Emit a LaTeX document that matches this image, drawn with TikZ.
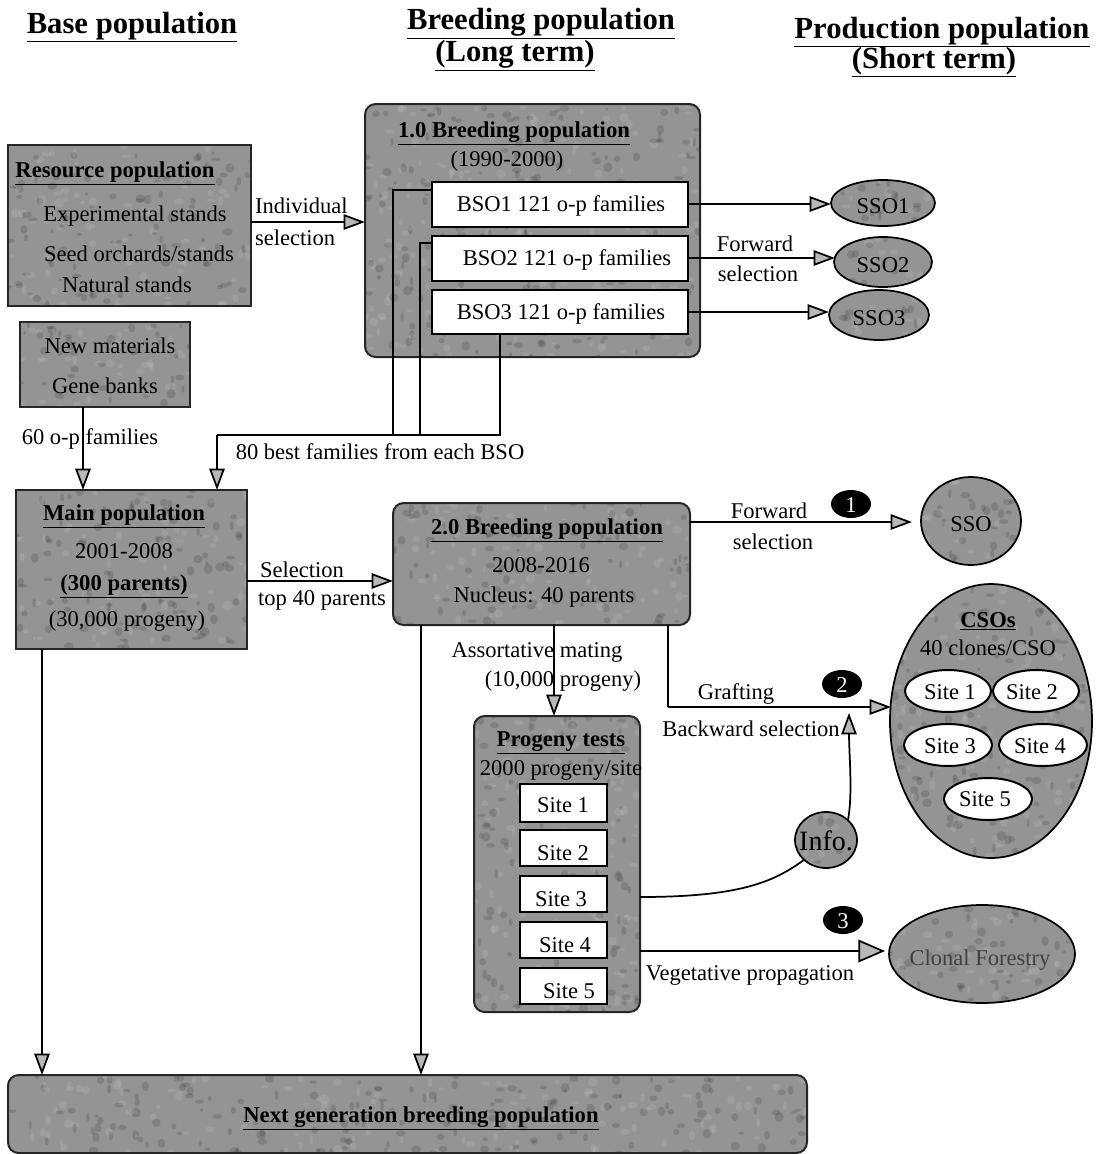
\documentclass[tikz,border=0pt]{standalone}
\usepackage{fontspec}
\setmainfont{Liberation Serif}
\usetikzlibrary{arrows.meta,shapes.geometric}
\definecolor{mott}{gray}{0.58}
\definecolor{tipg}{gray}{0.72}
\newcommand\bx[6]{\pgfmathsetmacro\curW{#5-#3}\pgfmathsetmacro\curH{#6-#4}\node[#1,minimum width={(#5-#3)*0.75pt},minimum height={(#6-#4)*0.75pt}] (#2) at ({(#3+#5)/2},{(#4+#6)/2}) {};}
\newcommand\el[6]{\pgfmathsetmacro\curW{2*#5}\pgfmathsetmacro\curH{2*#6}\node[#1,minimum width={2*#5*0.75pt},minimum height={2*#6*0.75pt}] (#2) at (#3,#4) {};}
\newcommand\blots{%
  \pgfmathtruncatemacro\blotN{(\curW/20)*(\curH/10)+1}%
  \foreach \i in {1,...,\blotN}{%
    \pgfmathsetmacro\bxa{rnd*\curW}\pgfmathsetmacro\bya{rnd*\curH}%
    \pgfmathsetmacro\bra{1.5+rnd*3.5}\pgfmathsetmacro\brb{1.5+rnd*3.5}%
    \pgfmathsetmacro\bop{rnd<0.55?1:0}%
    \ifdim\bop pt>0.5pt
      \fill[black,opacity=0.13] (path picture bounding box.north west) ++(\bxa,\bya) ellipse [x radius=\bra,y radius=\brb];
    \else
      \fill[white,opacity=0.1] (path picture bounding box.north west) ++(\bxa,\bya) ellipse [x radius=\bra,y radius=\brb];
    \fi
  }}
\tikzset{
  x=0.75pt,y=-0.75pt,
  every node/.style={inner sep=0pt,outer sep=0pt},
  txt/.style={font=\fontsize{16.9pt}{18pt}\selectfont,text=black,yshift=-0.5pt},
  btxt/.style={font=\fontsize{17pt}{18pt}\selectfont\bfseries,text=black,yshift=-3pt},
  head/.style={font=\fontsize{23pt}{25pt}\selectfont\bfseries,text=black,yshift=-3pt},
  gbox/.style={rectangle,draw=black!85,line width=1.5pt,fill=mott,path picture={\blots}},
  rbox/.style={rectangle,rounded corners=8pt,draw=black!85,line width=1.5pt,fill=mott,path picture={\blots}},
  wbox/.style={rectangle,draw=black,line width=1.5pt,fill=white},
  gell/.style={ellipse,draw=black,line width=1.3pt,fill=mott,path picture={\blots}},
  wrell/.style={ellipse,draw=black,line width=1.5pt,fill=white},
  bell/.style={ellipse,fill=black},
  conn/.style={draw=black,line width=1.3pt},
  arr/.style={conn,-{Triangle[length=16pt,width=11.5pt,fill=tipg]}},
  barr/.style={conn,-{Triangle[length=20pt,width=17pt,fill=tipg]}},
}
\begin{document}
\begin{tikzpicture}
\pgfmathsetseed{4242}
\useasboundingbox (0,0) rectangle (1098,1154);
% headers
\node[head] (h1) at (132,23) {\underline{Base population}};
\node[head] (h2) at (541,20) {\underline{Breeding population}};
\node[head] (h2b) at (515,52) {\underline{(Long term)}};
\node[head] (h3) at (942,28) {\underline{Production population}};
\node[head] (h3b) at (934,58) {\underline{(Short term)}};
% boxes
\bx{gbox}{res}{8}{145}{251}{306}
\bx{gbox}{newm}{20}{322}{190}{407}
\bx{rbox}{bp1}{365}{104}{700}{357}
\bx{wbox}{b1}{432}{182}{688}{227}
\bx{wbox}{b2}{432}{236}{688}{281}
\bx{wbox}{b3}{432}{290}{688}{334}
\el{gell}{s1}{883}{203}{52}{23}
\el{gell}{s2}{883}{262}{49}{25}
\el{gell}{s3}{879}{315}{50}{25}
\bx{gbox}{main}{16}{490}{247}{649}
\bx{rbox}{bp2}{393}{503}{690}{625}
\el{gell}{sso}{971}{521}{50}{44}
\el{gell}{cso}{991}{721}{101}{137}
\el{wrell}{c1}{948}{691}{43}{21}
\el{wrell}{c2}{1036}{691}{43}{21}
\el{wrell}{c3}{948}{745}{44}{21}
\el{wrell}{c4}{1043}{745}{44}{21}
\el{wrell}{c5}{988}{799}{44}{21}
\bx{rbox}{prog}{474}{716}{640}{1012}
\bx{wbox}{p1}{520}{784}{607}{822}
\bx{wbox}{p2}{520}{830}{607}{866}
\bx{wbox}{p3}{520}{876}{607}{912}
\bx{wbox}{p4}{520}{922}{607}{958}
\bx{wbox}{p5}{520}{968}{607}{1004}
\el{gell}{info}{826}{840}{31}{28}
\el{gell}{clon}{982}{954}{93}{49}
\bx{rbox}{next}{8}{1075}{807}{1153}
\el{bell}{n1}{851}{504}{20}{14}
\el{bell}{n2}{842}{684}{20}{14}
\el{bell}{n3}{843}{920}{20}{14}
% helper points
\coordinate (j1) at (393,190);
\coordinate (j2) at (420,243);
\coordinate (j3) at (500,435);
\coordinate (bus) at (217,435);
\coordinate (y1) at (0,222);
\coordinate (y2) at (0,204);
\coordinate (y3) at (0,258);
\coordinate (y4) at (0,312);
\coordinate (x1) at (83,0);
\coordinate (x2) at (42,0);
\coordinate (x3) at (421,0);
\coordinate (y5) at (0,581);
\coordinate (y6) at (0,522);
\coordinate (x4) at (554,0);
\coordinate (g1) at (668,707);
\coordinate (y7) at (0,897);
\coordinate (up) at (849,713);
\coordinate (y8) at (0,951);
\coordinate (e1) at (831,204);
\coordinate (e2) at (835,258);
\coordinate (e3) at (829,312);
\coordinate (e4) at (912,522);
\coordinate (e5) at (891,707);
\coordinate (e6) at (885,951);
% connectors
\draw[arr] (res.east |- y1) -- (bp1.west |- y1);
\draw[arr] (b1.east |- y2) -- (e1);
\draw[arr] (b2.east |- y3) -- (e2);
\draw[arr] (b3.east |- y4) -- (e3);
\draw[conn] (b1.west |- j1) -- (j1) -- (j1 |- bus);
\draw[conn] (b2.west |- j2) -- (j2) -- (j2 |- bus);
\draw[conn] (j3 |- b3.south) -- (j3) -- (bus);
\draw[arr] (bus) -- (bus |- main.north);
\draw[arr] (x1 |- newm.south) -- (x1 |- main.north);
\draw[arr] (x2 |- main.south) -- (x2 |- next.north);
\draw[arr] (x3 |- bp2.south) -- (x3 |- next.north);
\draw[arr] (main.east |- y5) -- (bp2.west |- y5);
\draw[arr] (bp2.east |- y6) -- (e4);
\draw[arr] (x4 |- bp2.south) -- (x4 |- prog.north);
\draw[conn] (g1 |- bp2.south) -- (g1);
\draw[arr] (g1) -- (e5);
\draw[conn] (prog.east |- y7) .. controls +(100,0) and +(-30,22) .. (info.south west);
\draw[arr] (info.north east) .. controls +(5,-25) and +(0,40) .. (up);
\draw[barr] (prog.east |- y8) -- (e6);
% labels
\node[btxt] (t1) at (115,169) {\underline{Resource population}};
\node[txt] (t2) at (135,215) {Experimental stands};
\node[txt] (t3) at (139,253) {Seed orchards/stands};
\node[txt] (t4) at (127,284) {Natural stands};
\node[txt] (t5) at (110,345) {New materials};
\node[txt] (t6) at (105,385) {Gene banks};
\node[txt] (t7) at (90,438) {60 o-p families};
\node[txt,anchor=west] (t8) at (255,205) {Individual};
\node[txt,anchor=west] (t9) at (255,237) {selection};
\node[btxt] (t10) at (514,129) {\underline{1.0 Breeding population}};
\node[txt] (t11) at (507,160) {(1990-2000)};
\node[txt] (tb1) at (561,205) {BSO1 121 o-p families};
\node[txt] (tb2) at (567,259) {BSO2 121 o-p families};
\node[txt] (tb3) at (561,313) {BSO3 121 o-p families};
\node[txt] (t12) at (755,243) {Forward};
\node[txt] (t13) at (758,273) {selection};
\node[txt] (ts1) at (883,205) {SSO1};
\node[txt] (ts2) at (883,264) {SSO2};
\node[txt] (ts3) at (879,317) {SSO3};
\node[txt] (t14) at (380,451) {80 best families from each BSO};
\node[btxt] (t15) at (124,512) {\underline{Main population}};
\node[txt] (t16) at (124,550) {2001-2008};
\node[btxt] (t17) at (124,582) {\underline{(300 parents)}};
\node[txt] (t18) at (127,620) {(30,000 progeny)};
\node[txt] (t19) at (302,569) {Selection};
\node[txt] (t20) at (322,600) {top 40 parents};
\node[btxt] (t21) at (547,526) {\underline{2.0 Breeding population}};
\node[txt] (t22) at (541,564) {2008-2016};
\node[txt] (t23) at (544,596) {Nucleus: 40 parents};
\node[txt] (t24) at (769,510) {Forward};
\node[txt] (t25) at (773,541) {selection};
\node[txt] (tso) at (971,523) {SSO};
\node[txt] (t26) at (537,652) {Assortative mating};
\node[txt] (t27) at (563,680) {(10,000 progeny)};
\node[txt] (t28) at (736,693) {Grafting};
\node[txt] (t29) at (751,728) {Backward selection};
\node[btxt] (t30) at (561,739) {\underline{Progeny tests}};
\node[txt] (t31) at (561,770) {2000 progeny/site};
\node[txt] (tp1) at (563,804) {Site 1};
\node[txt] (tp2) at (563,852) {Site 2};
\node[txt] (tp3) at (561,898) {Site 3};
\node[txt] (tp4) at (565,944) {Site 4};
\node[txt] (tp5) at (569,990) {Site 5};
\node[btxt] (t32) at (988,617) {\underline{CSOs}};
\node[txt] (t33) at (988,647) {40 clones/CSO};
\node[txt] (tc1) at (950,691) {Site 1};
\node[txt] (tc2) at (1032,691) {Site 2};
\node[txt] (tc3) at (950,745) {Site 3};
\node[txt] (tc4) at (1040,745) {Site 4};
\node[txt] (tc5) at (985,798) {Site 5};
\node[font=\fontsize{21pt}{23pt}\selectfont] (tinfo) at (826,841) {Info.};
\node[txt] (t34) at (750,975) {Vegetative propagation};
\node[txt,text=black!75] (t35) at (980,959) {Clonal Forestry};
\node[btxt] (t36) at (421,1114) {\underline{Next generation breeding population}};
\node[txt,text=white] (tn1) at (851,504) {1};
\node[txt,text=white] (tn2) at (842,684) {2};
\node[txt,text=white] (tn3) at (843,920) {3};
\end{tikzpicture}
\end{document}
